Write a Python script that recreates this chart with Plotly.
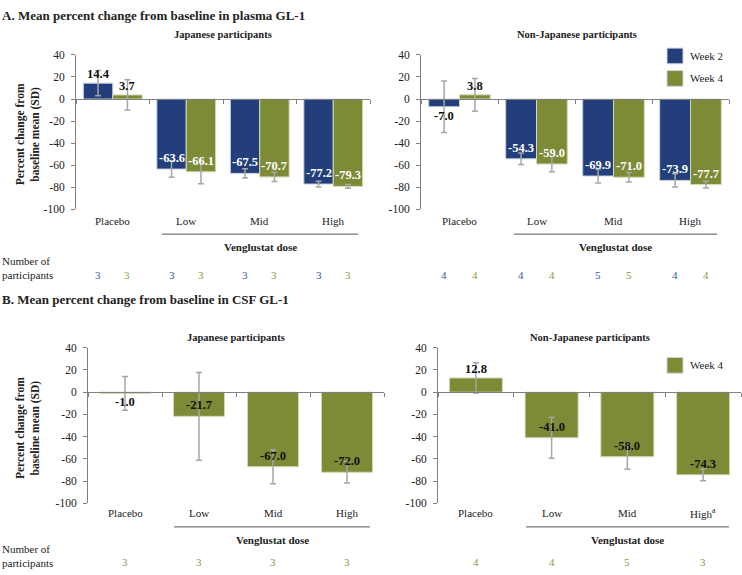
import plotly.graph_objects as go

W, H = 742, 575
FONT = "Liberation Serif, Times New Roman, serif"
BLUE = "#223F7C"
GREEN = "#7D8A36"
BLUE_TXT = "#34559E"
GREEN_TXT = "#8A9A3C"
ERR = "#A6A6A6"
AXIS = "#808080"

categories = ["Placebo", "Low", "Mid", "High"]
categories_csf = ["Placebo", "Low", "Mid", "High<sup>a</sup>"]
y_tick_values = [40, 20, 0, -20, -40, -60, -80, -100]
y_tick_text = ["40", "20", "0", "-20", "-40", "-60", "-80", "-100"]

# A. Plasma GL-1, Japanese participants
plasma_jp_wk2 = [14.4, -63.6, -67.5, -77.2]
plasma_jp_wk2_sd = [11.5, 7.5, 4.2, 2.6]
plasma_jp_wk4 = [3.7, -66.1, -70.7, -79.3]
plasma_jp_wk4_sd = [13.7, 10.9, 4.2, 1.6]
n_plasma_jp_wk2 = [3, 3, 3, 3]
n_plasma_jp_wk4 = [3, 3, 3, 3]

# A. Plasma GL-1, Non-Japanese participants
plasma_nj_wk2 = [-7.0, -54.3, -69.9, -73.9]
plasma_nj_wk2_sd = [23.3, 5.2, 6.4, 6.0]
plasma_nj_wk4 = [3.8, -59.0, -71.0, -77.7]
plasma_nj_wk4_sd = [14.9, 7.0, 4.4, 3.0]
n_plasma_nj_wk2 = [4, 4, 5, 4]
n_plasma_nj_wk4 = [4, 4, 5, 4]

# B. CSF GL-1 (Week 4 only)
csf_jp_wk4 = [-1.0, -21.7, -67.0, -72.0]
csf_jp_wk4_sd = [15.2, 39.4, 15.3, 9.6]
n_csf_jp = [3, 3, 3, 3]
csf_nj_wk4 = [12.8, -41.0, -58.0, -74.3]
csf_nj_wk4_sd = [13.6, 18.5, 11.3, 5.3]
n_csf_nj = [4, 4, 5, 3]


def px_x(p):
    return p / W


def px_y(p):
    return 1 - p / H


# panel geometry (pixels): left, right, y of +40, y of -100
panels = {
    "1": (76, 370, 50, 207.5),
    "2": (421, 729, 50, 207.5),
    "3": (88, 384, 349, 508),
    "4": (438, 741, 349, 508),
}

fig = go.Figure()
layout = dict(
    width=W, height=H, margin=dict(l=0, r=0, t=0, b=0),
    paper_bgcolor="white", plot_bgcolor="white",
    barmode="overlay", showlegend=False,
    font=dict(family=FONT, size=11, color="#222222"),
)

for k, (l, r, t, b) in panels.items():
    ydom = [px_y(b), px_y(t)]
    zero_pos = ydom[0] + (100 / 140) * (ydom[1] - ydom[0])
    xs = "xaxis" if k == "1" else f"xaxis{k}"
    ys = "yaxis" if k == "1" else f"yaxis{k}"
    layout[xs] = dict(
        domain=[px_x(l), px_x(r)], type="category",
        categoryorder="array", categoryarray=categories,
        range=[-0.5, 3.5], anchor="free", position=zero_pos,
        showline=True, linecolor=AXIS, linewidth=1,
        ticks="outside", tickson="boundaries", ticklen=4, tickcolor=AXIS,
        showticklabels=False, showgrid=False, zeroline=False, fixedrange=True,
    )
    layout[ys] = dict(
        domain=ydom, range=[-100, 40], anchor="x" if k == "1" else f"x{k}",
        tickvals=y_tick_values, ticktext=y_tick_text,
        showline=True, linecolor=AXIS, linewidth=1,
        ticks="outside", ticklen=4, tickcolor=AXIS, showgrid=False,
        ticklabelstandoff=4,
        zeroline=False, tickfont=dict(family=FONT, size=11.5, color="#222222"),
        fixedrange=True,
    )

fig.update_layout(**layout)


def err(sd):
    return dict(type="data", array=sd, visible=True, color=ERR,
                thickness=1.5, width=3)


def add_bar(vals, sd, color, xa, ya, width, offset, edge):
    fig.add_trace(go.Bar(
        x=categories, y=vals, xaxis=xa, yaxis=ya, width=width, offset=offset,
        marker=dict(color=color, line=dict(color=edge, width=1)),
        error_y=err(sd), hoverinfo="y",
    ))


EDGE_B = "#C9CFDD"
EDGE_G = "#D4D9B8"
add_bar(plasma_jp_wk2, plasma_jp_wk2_sd, BLUE, "x", "y", 0.4, -0.4, EDGE_B)
add_bar(plasma_jp_wk4, plasma_jp_wk4_sd, GREEN, "x", "y", 0.4, 0.0, EDGE_G)
add_bar(plasma_nj_wk2, plasma_nj_wk2_sd, BLUE, "x2", "y2", 0.4, -0.4, EDGE_B)
add_bar(plasma_nj_wk4, plasma_nj_wk4_sd, GREEN, "x2", "y2", 0.4, 0.0, EDGE_G)
add_bar(csf_jp_wk4, csf_jp_wk4_sd, GREEN, "x3", "y3", 0.69, -0.345, EDGE_G)
add_bar(csf_nj_wk4, csf_nj_wk4_sd, GREEN, "x4", "y4", 0.7, -0.35, EDGE_G)

ann = []


def bar_labels(vals, xa, ya, dx, inside_color):
    for i, v in enumerate(vals):
        txt = f"<b>{v:.1f}</b>"
        if v >= 0:
            a = dict(yanchor="bottom", yshift=0, color="#111111")
        elif abs(v) < 10:
            a = dict(yanchor="top", yshift=0, color="#111111")
        else:
            a = dict(yanchor="bottom", yshift=2, color=inside_color)
        ann.append(dict(
            x=i + dx, y=v, xref=xa, yref=ya, text=txt, showarrow=False,
            yanchor=a["yanchor"], yshift=a["yshift"], xanchor="center",
            font=dict(family=FONT, size=12.5, color=a["color"]),
        ))


bar_labels(plasma_jp_wk2, "x", "y", -0.2, "white")
bar_labels(plasma_jp_wk4, "x", "y", 0.2, "white")
bar_labels(plasma_nj_wk2, "x2", "y2", -0.2, "white")
bar_labels(plasma_nj_wk4, "x2", "y2", 0.2, "white")
bar_labels(csf_jp_wk4, "x3", "y3", 0.0, "#111111")
bar_labels(csf_nj_wk4, "x4", "y4", 0.0, "#111111")


def text(x, y, s, size=11, bold=False, color="#222222", xanchor="center",
         xref="paper", align="center"):
    ann.append(dict(
        x=x, y=y, xref=xref, yref="paper", text=f"<b>{s}</b>" if bold else s,
        showarrow=False, xanchor=xanchor, yanchor="middle", align=align,
        font=dict(family=FONT, size=size, color=color),
    ))


# section titles
text(0, px_y(10), "A. Mean percent change from baseline in plasma GL-1",
     size=13, bold=True, xanchor="left")
text(0, px_y(300), "B. Mean percent change from baseline in CSF GL-1",
     size=13, bold=True, xanchor="left")
text(px_x(223), px_y(29), "Japanese participants", size=10.5, bold=True)
text(px_x(577), px_y(29), "Non-Japanese participants", size=10.5, bold=True)
text(px_x(236), px_y(339), "Japanese participants", size=10.5, bold=True)
text(px_x(590), px_y(339), "Non-Japanese participants", size=10.5, bold=True)

# y-axis titles
for yc in (131, 431):
    ann.append(dict(
        x=px_x(28), y=px_y(yc), xref="paper", yref="paper",
        text="<b>Percent change from<br>baseline mean (SD)</b>",
        textangle=-90, showarrow=False, xanchor="center", yanchor="middle",
        font=dict(family=FONT, size=11.5, color="#222222"),
    ))

# category labels
for xa, labels, ypx in (("x", categories, 220), ("x2", categories, 220),
                        ("x3", categories, 518), ("x4", categories_csf, 518)):
    for i, c in enumerate(labels):
        text(i, px_y(ypx), c, size=11, xref=xa)

# "Venglustat dose" brackets
shapes = []
for (x0, x1, ly, ty) in ((162, 358, 233, 246), (514, 717, 233, 246),
                         (174, 370, 532, 545), (526, 729, 532, 545)):
    shapes.append(dict(type="line", xref="paper", yref="paper",
                       x0=px_x(x0), x1=px_x(x1), y0=px_y(ly), y1=px_y(ly),
                       line=dict(color="#555555", width=1)))
    text(px_x((x0 + x1) / 2), px_y(ty), "Venglustat dose", size=11, bold=True)

# number of participants
for ypx in (268, 562):
    text(0, px_y(ypx), "Number of<br>participants", size=11, xanchor="left",
         align="left")


def counts(ns, xa, dx, color, ypx):
    for i, n in enumerate(ns):
        text(i + dx, px_y(ypx), str(n), size=11, color=color, xref=xa)


counts(n_plasma_jp_wk2, "x", -0.2, BLUE_TXT, 275)
counts(n_plasma_jp_wk4, "x", 0.2, GREEN_TXT, 275)
counts(n_plasma_nj_wk2, "x2", -0.2, BLUE_TXT, 275)
counts(n_plasma_nj_wk4, "x2", 0.2, GREEN_TXT, 275)
counts(n_csf_jp, "x3", 0.0, GREEN_TXT, 568)
counts(n_csf_nj, "x4", 0.0, GREEN_TXT, 568)

# legends
legend_items = [(43, BLUE, "Week 2"), (66, GREEN, "Week 4"), (359, GREEN, "Week 4")]
for ypx, col, lab in legend_items:
    shapes.append(dict(type="rect", xref="paper", yref="paper",
                       x0=px_x(667), x1=px_x(683), y0=px_y(ypx + 16), y1=px_y(ypx),
                       fillcolor=col, line=dict(color="#D0D4DC", width=1)))
    text(px_x(688), px_y(ypx + 8), lab, size=11, xanchor="left")

fig.update_layout(annotations=ann, shapes=shapes)
fig.write_html(
    "out.html",
    config={"displayModeBar": False},
    post_script="document.body.style.margin='0';document.body.style.overflow='hidden';",
)
